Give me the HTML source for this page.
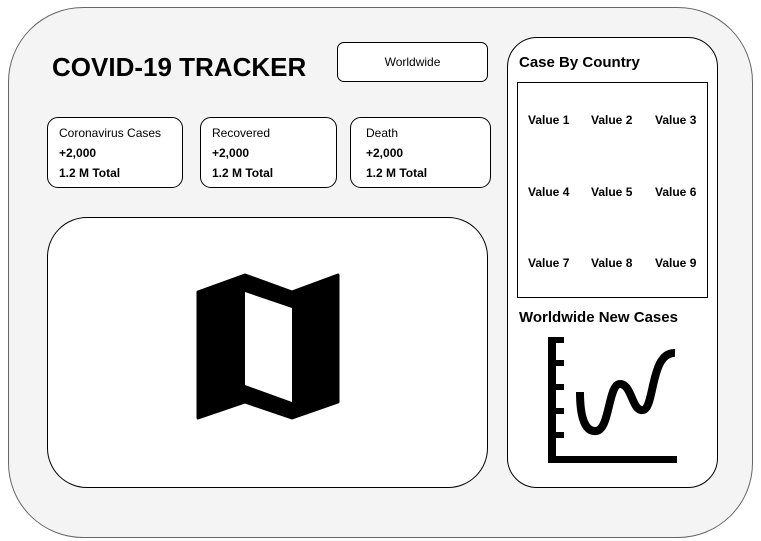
<!DOCTYPE html>
<html><head><meta charset="utf-8"><style>
body{margin:0;width:761px;height:541px;background:#fff;font-family:"Liberation Sans",Arial,sans-serif;position:relative;overflow:hidden}
.a{position:absolute;box-sizing:border-box}
.card{background:#fff;border:1px solid #000;border-radius:11px}
.t{position:absolute;font-size:12px;white-space:nowrap;color:#000}
.b{font-weight:bold}
.v{position:absolute;font-size:12px;font-weight:bold;white-space:nowrap}
</style></head><body>
<div class="a" style="left:8px;top:7px;width:745px;height:531px;background:#f4f4f4;border:1px solid #666;border-radius:75px"></div>
<div class="a" style="left:52px;top:52px;font-size:26px;font-weight:bold;white-space:nowrap">COVID-19 TRACKER</div>
<div class="a card" style="left:337px;top:42px;width:151px;height:40px;border-radius:7px;display:flex;align-items:center;justify-content:center;font-size:12px">Worldwide</div>

<div class="a card" style="left:47px;top:117px;width:136px;height:71px">
<div class="t" style="left:11px;top:8px">Coronavirus Cases</div>
<div class="t b" style="left:11px;top:28px">+2,000</div>
<div class="t b" style="left:11px;top:48px">1.2 M Total</div></div>
<div class="a card" style="left:200px;top:117px;width:137px;height:71px">
<div class="t" style="left:11px;top:8px">Recovered</div>
<div class="t b" style="left:11px;top:28px">+2,000</div>
<div class="t b" style="left:11px;top:48px">1.2 M Total</div></div>
<div class="a card" style="left:350px;top:117px;width:141px;height:71px">
<div class="t" style="left:15px;top:8px">Death</div>
<div class="t b" style="left:15px;top:28px">+2,000</div>
<div class="t b" style="left:15px;top:48px">1.2 M Total</div></div>

<div class="a card" style="left:47px;top:217px;width:441px;height:271px;border-radius:40px"></div>
<svg class="a" style="left:0;top:0" width="761" height="541">
<path d="M198,292 L245,275 L292,292 L338,275 L338,402 L292,418 L245,402 L198,418 Z" fill="#000" stroke="#000" stroke-width="3" stroke-linejoin="round"/>
<path d="M245,292 L292,308 L292,402 L245,385 Z" fill="#fff"/>
</svg>

<div class="a card" style="left:507px;top:37px;width:211px;height:451px;border-radius:30px"></div>
<div class="a" style="left:519px;top:54px;font-size:15px;font-weight:bold;white-space:nowrap">Case By Country</div>
<div class="a" style="left:517px;top:82px;width:191px;height:216px;border:1px solid #000;background:#fff">
<div class="v" style="left:10px;top:30px">Value 1</div>
<div class="v" style="left:73px;top:30px">Value 2</div>
<div class="v" style="left:137px;top:30px">Value 3</div>
<div class="v" style="left:10px;top:102px">Value 4</div>
<div class="v" style="left:73px;top:102px">Value 5</div>
<div class="v" style="left:137px;top:102px">Value 6</div>
<div class="v" style="left:10px;top:173px">Value 7</div>
<div class="v" style="left:73px;top:173px">Value 8</div>
<div class="v" style="left:137px;top:173px">Value 9</div>
</div>
<div class="a" style="left:519px;top:309px;font-size:15px;font-weight:bold;white-space:nowrap">Worldwide New Cases</div>
<svg class="a" style="left:0;top:0" width="761" height="541">
<rect x="548" y="337" width="8" height="126" fill="#000"/>
<rect x="548" y="456" width="129" height="7" fill="#000"/>
<rect x="548" y="337" width="16" height="6" fill="#000"/>
<rect x="548" y="360" width="16" height="6" fill="#000"/>
<rect x="548" y="384" width="16" height="6" fill="#000"/>
<rect x="548" y="408" width="16" height="6" fill="#000"/>
<rect x="548" y="432" width="16" height="6" fill="#000"/>
<path d="M580,392 C580,420 586,432 596,431 C610,430 608,384 620,384 C632,384 632,412 643,410 C655,408 650,352 675,353" fill="none" stroke="#000" stroke-width="8"/>
</svg>
</body></html>
